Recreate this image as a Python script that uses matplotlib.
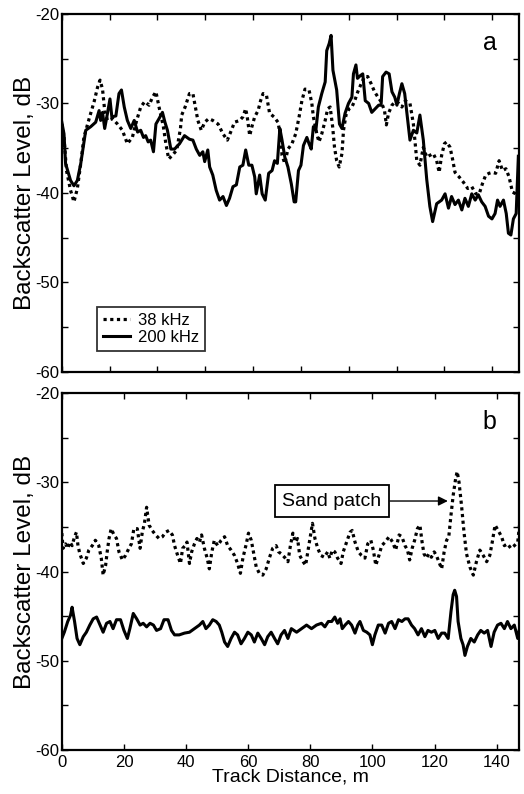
import numpy as np
import matplotlib
matplotlib.use("Agg")
import matplotlib.pyplot as plt

plt.rcParams['font.family'] = ['Liberation Sans', 'DejaVu Sans']

# ---------------- Panel a data ----------------
a200_x = [0, 0.7, 1.2, 2.8, 3.9, 5.0, 6.1, 7.7, 9.3, 10.9, 12.0, 12.5, 13.1, 13.8, 14.7, 15.5, 16.1, 17.4,
          18.4, 19.2, 20.1, 21.1, 22.2, 23.3, 24.4, 25.4, 26.3, 27.0, 27.8, 28.6, 29.5, 30.3, 31.3, 32.4,
          33.2, 34.0, 35.1, 36.3, 37.9, 39.5, 41.1, 42.2, 43.3, 44.4, 45.4, 46.0, 47.0, 47.6, 48.6, 49.7,
          50.8, 51.9, 53.0, 54.0, 55.1, 56.2, 57.3, 58.3, 59.2, 60.2, 61.2, 62.1, 62.6, 63.7, 64.5, 65.5,
          66.6, 67.7, 68.5, 69.4, 70.2, 70.9, 71.8, 72.8, 73.9, 74.8, 75.3, 76.2, 77.0, 77.8, 78.9, 79.6,
          80.3, 81.0, 81.8, 82.6, 83.7, 84.8, 85.3, 86.1, 86.7, 87.3, 88.5, 89.4, 90.2, 91.2, 92.3, 93.4,
          93.9, 94.7, 95.2, 96.1, 96.9, 97.7, 98.8, 99.8, 100.9, 102.0, 102.8, 103.3, 104.4, 105.4, 106.3,
          107.2, 107.9, 108.7, 109.5, 110.4, 111.0, 112.1, 113.2, 114.3, 115.3, 116.4, 117.5, 118.5, 119.4,
          120.7, 122.3, 123.4, 124.5, 125.5, 126.6, 127.7, 128.8, 129.8, 130.9, 132.0, 133.1, 134.1, 135.2,
          136.3, 137.4, 138.5, 139.5, 140.3, 141.1, 142.2, 143.1, 143.8, 144.6, 145.4, 146.3, 147.0]
a200_y = [-32.1, -33.4, -36.7, -38.6, -39.2, -38.6, -36.7, -33.0, -32.6, -32.1, -30.8, -31.9, -31.0, -32.8,
          -31.1, -29.5, -31.5, -31.4, -28.9, -28.5, -30.4, -31.9, -32.8, -31.9, -33.2, -33.0, -33.8, -33.6,
          -34.3, -34.1, -35.4, -32.3, -31.7, -31.0, -32.1, -33.0, -35.1, -35.1, -34.5, -33.6, -34.0, -34.1,
          -35.1, -35.8, -35.4, -36.5, -35.2, -37.1, -38.0, -39.7, -40.8, -40.4, -41.4, -40.6, -39.3, -39.1,
          -37.1, -36.9, -35.2, -36.9, -36.9, -38.2, -40.1, -38.0, -40.1, -40.8, -37.8, -37.5, -36.4, -36.7,
          -32.8, -34.1, -36.0, -37.1, -39.0, -41.0, -41.0, -37.5, -36.9, -34.7, -33.8, -34.5, -35.1, -32.6,
          -33.0, -30.4, -28.9, -27.6, -24.1, -23.3, -22.4, -26.3, -28.5, -32.3, -32.8, -31.1, -30.0, -29.3,
          -26.7, -25.7, -27.2, -26.9, -26.7, -29.7, -30.0, -31.0, -30.6, -30.2, -30.2, -27.0, -26.5, -26.7,
          -28.7, -29.3, -30.2, -28.9, -27.8, -28.9, -30.7, -34.1, -33.0, -33.3, -31.3, -34.1, -38.5, -41.5,
          -43.2, -41.2, -40.8, -40.1, -41.7, -40.4, -41.3, -40.8, -41.9, -40.6, -41.5, -40.1, -40.8, -40.2,
          -41.0, -41.5, -42.6, -42.9, -42.3, -40.8, -41.5, -40.8, -42.3, -44.5, -44.7, -42.9, -42.3, -35.9]

a38_x = [0, 0.7, 1.5, 2.8, 3.9, 5.0, 6.1, 7.1, 8.8, 10.4, 11.5, 12.3, 13.1, 13.8, 14.7, 16.3, 17.9, 19.5,
         21.1, 22.7, 24.1, 25.4, 26.7, 28.1, 29.2, 30.3, 31.3, 32.7, 33.5, 34.4, 35.6, 37.0, 38.2, 38.6,
         39.7, 41.1, 42.2, 43.0, 43.8, 44.9, 46.0, 47.3, 48.6, 50.3, 51.9, 53.3, 54.6, 55.6, 57.3, 58.3,
         59.2, 59.7, 60.5, 61.2, 62.1, 63.2, 64.0, 64.8, 65.9, 66.9, 68.3, 69.6, 70.5, 70.9, 71.8, 72.8,
         74.1, 75.3, 76.4, 77.3, 78.3, 79.6, 80.5, 81.0, 82.1, 82.8, 83.7, 84.8, 85.6, 86.4, 87.2, 87.8,
         88.5, 89.3, 90.2, 90.7, 91.5, 92.5, 93.4, 94.3, 95.3, 96.4, 97.5, 98.5, 99.6, 100.7, 101.8, 102.8,
         103.9, 104.5, 105.2, 106.3, 107.4, 108.5, 109.5, 110.6, 112.1, 113.2, 114.3, 115.3, 116.4, 117.5,
         118.5, 119.6, 120.7, 121.5, 122.3, 123.2, 123.9, 125.0, 125.8, 126.6, 127.9, 129.3, 130.7, 132.0,
         133.3, 134.4, 135.4, 136.5, 137.6, 138.6, 139.7, 140.8, 141.9, 143.0, 144.0, 145.1, 146.2]
a38_y = [-32.3, -33.8, -37.5, -39.7, -41.0, -39.5, -36.7, -33.8, -31.7, -29.8, -28.2, -27.4, -28.4, -30.8,
         -31.9, -31.7, -32.3, -33.0, -34.5, -33.8, -31.9, -30.4, -29.8, -30.2, -29.3, -28.7, -30.4, -32.6,
         -34.5, -36.2, -35.8, -35.2, -32.8, -31.3, -30.4, -28.9, -28.9, -30.4, -31.9, -33.0, -32.1, -31.7,
         -31.9, -32.3, -33.4, -34.1, -33.0, -32.1, -31.9, -31.5, -30.6, -31.5, -33.6, -32.6, -31.5, -30.8,
         -29.7, -28.9, -29.1, -31.1, -31.5, -32.1, -33.8, -35.8, -36.7, -35.1, -34.5, -33.4, -31.5, -29.7,
         -28.4, -28.5, -30.0, -31.5, -33.4, -34.3, -33.4, -31.9, -30.6, -30.4, -32.6, -34.9, -36.4, -37.1,
         -35.6, -33.0, -31.3, -30.6, -30.4, -29.7, -28.7, -27.8, -27.0, -27.0, -27.8, -28.7, -29.3, -29.8,
         -30.8, -32.4, -31.1, -30.2, -29.8, -30.0, -30.4, -29.7, -30.0, -32.3, -36.4, -36.9, -34.9, -36.0,
         -35.8, -35.6, -36.4, -37.7, -35.8, -34.5, -34.3, -34.9, -36.2, -37.7, -38.2, -38.8, -39.5, -39.3,
         -40.1, -40.1, -39.0, -38.0, -37.8, -37.7, -37.8, -36.4, -37.5, -37.3, -38.2, -39.9, -40.1]

# ---------------- Panel b data ----------------
b38_x = [0, 0.4, 1.2, 1.9, 2.6, 3.3, 4.1, 4.7, 5.2, 5.8, 6.9, 7.9, 8.7, 9.8, 10.8, 11.9, 12.7, 13.3, 14.1,
         14.6, 15.2, 15.9, 16.8, 17.6, 18.4, 19.5, 20.5, 21.6, 22.4, 23.2, 24.3, 25.2, 25.9, 26.6, 27.3,
         28.1, 29.1, 30.2, 31.3, 32.4, 33.4, 34.5, 35.6, 36.3, 37.3, 38.2, 38.9, 39.7, 40.3, 41.1, 41.8,
         42.7, 43.5, 44.3, 45.0, 45.9, 46.8, 47.5, 48.3, 49.1, 50.2, 51.3, 52.4, 53.4, 54.5, 55.6, 56.6,
         57.5, 58.3, 59.4, 60.1, 61.0, 61.8, 62.6, 63.6, 64.7, 65.8, 66.9, 67.9, 69.0, 69.8, 70.6, 71.7,
         72.8, 73.6, 74.4, 75.2, 75.9, 76.6, 77.7, 78.5, 79.4, 80.2, 80.7, 81.5, 82.4, 83.4, 84.5, 85.6,
         86.3, 87.1, 87.9, 88.8, 89.9, 90.6, 91.7, 92.8, 93.5, 94.4, 95.5, 96.5, 97.6, 98.5, 99.5, 100.3,
         101.1, 102.1, 103.0, 104.1, 105.4, 106.5, 107.5, 108.6, 109.5, 110.5, 111.3, 112.0, 112.8, 113.6,
         114.5, 115.3, 116.0, 116.6, 117.4, 118.2, 119.0, 119.9, 120.6, 121.4, 122.3, 123.1, 123.9, 124.6,
         125.3, 126.0, 126.8, 127.3, 127.9, 128.7, 129.5, 130.3, 131.4, 132.5, 133.5, 134.6, 135.7, 136.8,
         137.8, 138.6, 139.5, 140.5, 141.6, 142.5, 143.5, 144.6, 145.7, 146.8, 147.6]
b38_y = [-35.7, -37.4, -36.9, -37.4, -36.7, -37.1, -36.1, -35.6, -37.1, -38.0, -39.1, -38.5, -37.6, -37.1,
         -36.5, -37.1, -38.5, -40.4, -39.3, -37.8, -36.3, -35.2, -35.9, -36.3, -37.8, -38.7, -38.2, -37.4,
         -36.9, -35.2, -35.2, -37.4, -35.6, -34.6, -32.8, -34.8, -35.4, -35.9, -36.3, -36.1, -35.6, -35.4,
         -35.9, -37.1, -38.2, -39.1, -37.4, -37.1, -36.7, -39.1, -37.8, -36.9, -36.3, -36.7, -35.9, -37.4,
         -38.5, -39.7, -37.8, -36.5, -37.1, -36.5, -36.1, -37.1, -37.6, -38.2, -39.1, -40.2, -38.5, -36.9,
         -35.7, -36.5, -38.0, -39.5, -40.2, -40.4, -39.7, -38.4, -37.4, -37.1, -37.8, -38.0, -38.4, -38.9,
         -37.1, -35.7, -36.7, -36.3, -38.2, -38.9, -39.3, -37.4, -35.7, -34.6, -36.3, -37.4, -38.2, -38.4,
         -37.8, -38.5, -37.6, -37.8, -38.5, -39.1, -37.8, -36.7, -35.6, -35.4, -36.7, -37.8, -38.2, -38.5,
         -36.9, -36.5, -37.6, -39.3, -38.2, -37.1, -36.7, -36.1, -36.7, -37.6, -35.9, -36.1, -37.1, -37.6,
         -38.7, -37.4, -36.5, -35.2, -34.8, -36.7, -38.0, -38.5, -38.0, -38.4, -37.8, -38.2, -38.9, -39.7,
         -37.8, -36.5, -36.1, -33.7, -31.5, -29.6, -28.8, -30.0, -32.6, -35.6, -38.0, -39.5, -40.4, -38.9,
         -37.6, -38.2, -38.9, -38.2, -36.7, -34.8, -35.4, -36.1, -37.1, -36.9, -37.4, -37.1, -36.7, -34.1]

b200_x = [0, 0.8, 1.9, 2.8, 3.3, 4.1, 4.9, 5.8, 6.9, 7.9, 9.0, 10.1, 11.2, 12.3, 13.3, 14.4, 15.5, 16.5,
          17.6, 18.9, 20.0, 21.1, 21.9, 23.0, 24.1, 25.2, 26.2, 27.3, 28.4, 29.5, 30.5, 31.8, 32.9, 34.2,
          35.3, 36.3, 37.8, 39.5, 41.1, 42.7, 44.3, 45.4, 46.4, 47.5, 48.6, 49.7, 50.7, 51.5, 52.4, 53.4,
          54.5, 55.6, 56.6, 57.7, 58.8, 59.9, 61.0, 62.0, 63.1, 64.2, 65.3, 66.3, 67.4, 68.5, 69.5, 70.6,
          71.7, 72.8, 73.9, 75.6, 77.2, 78.8, 80.4, 82.0, 83.6, 84.7, 85.8, 86.9, 87.9, 88.8, 89.6, 90.3,
          91.2, 92.3, 93.3, 94.4, 95.3, 96.0, 97.1, 98.2, 99.2, 100.0, 100.8, 101.9, 103.0, 104.1, 105.2,
          106.2, 107.3, 108.4, 109.5, 110.5, 111.5, 112.6, 113.6, 114.7, 115.8, 116.9, 117.9, 119.0, 120.1,
          121.2, 122.3, 123.3, 124.4, 125.3, 126.0, 126.5, 127.1, 127.6, 128.5, 129.2, 129.8, 130.6, 131.7,
          132.8, 133.9, 134.9, 136.0, 137.1, 138.2, 139.2, 140.3, 141.4, 142.5, 143.5, 144.6, 145.7, 146.8,
          147.6]
b200_y = [-47.5, -46.8, -45.6, -44.9, -44.0, -45.6, -47.5, -48.2, -47.3, -46.8, -46.0, -45.3, -45.1, -46.0,
          -46.8, -45.8, -45.6, -46.4, -45.4, -45.4, -46.6, -47.5, -46.4, -44.7, -45.3, -46.0, -45.8, -46.2,
          -45.8, -46.0, -46.6, -46.4, -45.4, -45.4, -46.6, -47.1, -47.1, -46.9, -46.8, -46.4, -46.0, -45.6,
          -46.4, -46.0, -45.4, -45.6, -46.0, -46.8, -47.9, -48.4, -47.5, -46.8, -47.1, -48.1, -47.5, -46.8,
          -47.1, -47.9, -46.9, -47.5, -48.2, -47.3, -46.8, -47.5, -48.1, -47.1, -46.6, -47.5, -46.4, -46.8,
          -46.4, -46.0, -46.4, -46.0, -45.8, -46.2, -45.6, -45.6, -45.1, -45.8, -45.3, -46.4, -46.0, -45.6,
          -46.0, -46.9, -46.0, -45.6, -46.6, -46.8, -47.1, -48.2, -47.1, -46.0, -46.0, -46.9, -45.8, -45.6,
          -46.4, -45.4, -45.6, -45.3, -45.3, -46.0, -46.4, -47.1, -46.4, -47.3, -46.6, -46.8, -46.6, -47.5,
          -46.9, -46.9, -47.5, -44.5, -42.6, -42.1, -42.8, -45.6, -47.5, -48.2, -49.4, -48.4, -47.5, -47.9,
          -47.1, -46.6, -46.9, -46.6, -48.4, -46.8, -46.0, -45.8, -46.4, -45.6, -46.4, -46.0, -47.5, -46.0]

xlim = (0, 147.3)
ylim = (-60, -20)
bottom_xticks = [0, 20, 40, 60, 80, 100, 120, 140]
top_tick_step = 15.4
yticks_major = [-60, -50, -40, -30, -20]
yticks_minor = [-55, -45, -35, -25]

fig = plt.figure(figsize=(5.24, 7.94), dpi=100)
ax1 = fig.add_axes([0.118, 0.5315, 0.873, 0.451])
ax2 = fig.add_axes([0.118, 0.0554, 0.873, 0.4496])

dot_style = dict(color='black', lw=2.3, linestyle=(0, (1, 1.1)))
solid_style = dict(color='black', lw=2.2)

ax1.plot(a38_x, a38_y, label='38 kHz', **dot_style)
ax1.plot(a200_x, a200_y, label='200 kHz', **solid_style)
ax2.plot(b38_x, b38_y, **dot_style)
ax2.plot(b200_x, b200_y, **solid_style)

for ax in (ax1, ax2):
    ax.set_xlim(*xlim)
    ax.set_ylim(*ylim)
    ax.set_yticks(yticks_major)
    ax.set_yticks(yticks_minor, minor=True)
    ax.set_yticklabels([str(v) for v in yticks_major])
    ax.tick_params(which='both', direction='in', top=True, right=True, length=4.5, width=1.0,
                   labelsize=12, pad=2)
    ax.tick_params(axis='x', pad=3.5)
    for s in ax.spines.values():
        s.set_linewidth(1.6)
    ax.set_ylabel('Backscatter Level, dB', fontsize=17.5, labelpad=-1)

ax1.set_xticks(np.arange(0, xlim[1], top_tick_step))
ax1.set_xticklabels([])
ax2.set_xticks(bottom_xticks)
ax2.set_xlabel('Track Distance, m', fontsize=14, labelpad=-1)

ax1.text(0.935, 0.92, 'a', transform=ax1.transAxes, fontsize=18, ha='center', va='center')
ax2.text(0.935, 0.92, 'b', transform=ax2.transAxes, fontsize=18, ha='center', va='center')

leg = ax1.legend(loc='lower left', bbox_to_anchor=(0.077, 0.06), fontsize=12, frameon=True,
                 fancybox=False, edgecolor='black', handlelength=1.6, handletextpad=0.5,
                 borderpad=0.35, labelspacing=0.1, borderaxespad=0)
leg.get_frame().set_linewidth(1.3)

ax2.annotate('Sand patch', xy=(124.3, -32.1), xytext=(87.0, -32.1), fontsize=14,
             ha='center', va='center',
             bbox=dict(boxstyle='square,pad=0.4', fc='white', ec='black', lw=1.3),
             arrowprops=dict(arrowstyle='-|>', color='black', lw=1.0, mutation_scale=14,
                             shrinkA=0, shrinkB=0))

fig.savefig('out.png', dpi=100)
